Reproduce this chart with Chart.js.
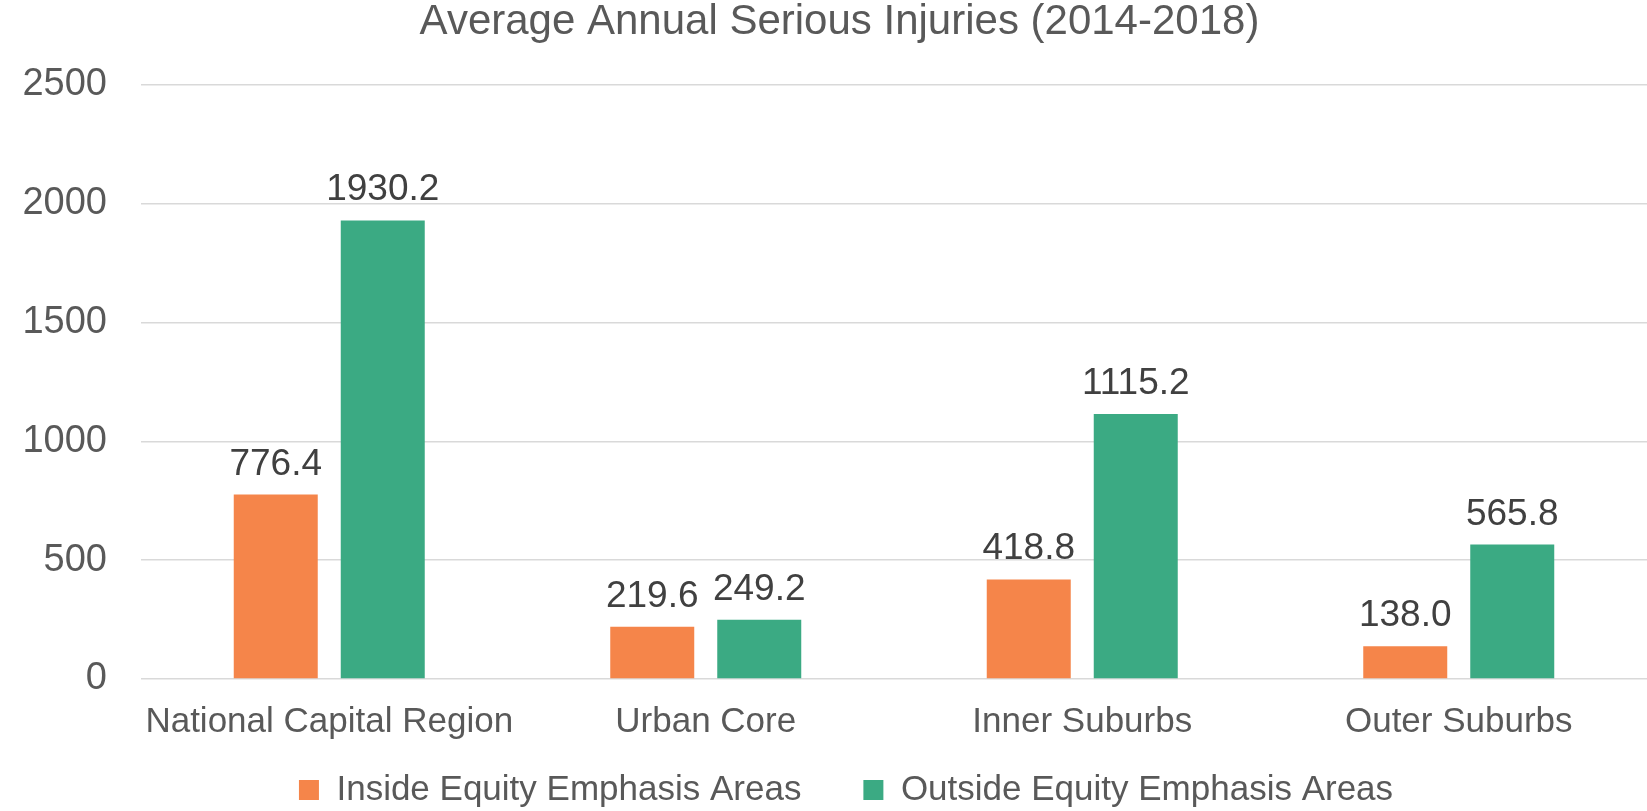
<!DOCTYPE html>
<html><head><meta charset="utf-8">
<script src="https://cdn.jsdelivr.net/npm/chart.js@4.4.0/dist/chart.umd.min.js"></script>
<style>html,body{margin:0;padding:0;background:#fff;} #wrap{width:1647px;height:811px;position:relative;}</style>
</head><body><div id="wrap"><canvas id="c"></canvas></div>
<script>
const categories = ['National Capital Region', 'Urban Core', 'Inner Suburbs', 'Outer Suburbs'];
const seriesNames = ['Inside Equity Emphasis Areas', 'Outside Equity Emphasis Areas'];
const insideValues = [776.4, 219.6, 418.8, 138.0];
const outsideValues = [1930.2, 249.2, 1115.2, 565.8];
const yTicks = [0, 500, 1000, 1500, 2000, 2500];
const titleText = 'Average Annual Serious Injuries (2014-2018)';

const FONT = '"Liberation Sans", Arial, sans-serif';
Chart.defaults.font.family = FONT;

const valueLabels = {
  id: 'valueLabels',
  afterDatasetsDraw(chart) {
    const ctx = chart.ctx;
    ctx.save();
    ctx.font = '37px ' + FONT;
    ctx.fillStyle = '#404040';
    ctx.textAlign = 'center';
    ctx.textBaseline = 'alphabetic';
    chart.data.datasets.forEach((ds, i) => {
      chart.getDatasetMeta(i).data.forEach((bar, j) => {
        ctx.fillText(ds.data[j].toFixed(1), bar.x, bar.y - 20);
      });
    });
    ctx.restore();
  }
};

const shiftBoxes = {
  id: 'shiftBoxes',
  afterLayout(chart) {
    const t = chart.titleBlock;
    if (t) { t.left += 32; }
    const l = chart.legend;
    if (l) {
      l.left += 22.5; l.right += 22.5;
      l.top = 772.5 - 62;
      l.bottom = 811;
      l.height = l.bottom - l.top;
    }
  }
};

new Chart(document.getElementById('c'), {
  type: 'bar',
  data: {
    labels: categories,
    datasets: [
      { label: seriesNames[0], data: insideValues, backgroundColor: '#F5854A', borderWidth: 0,
        categoryPercentage: 0.5684, barPercentage: 0.785 },
      { label: seriesNames[1], data: outsideValues, backgroundColor: '#3BAA83', borderWidth: 0,
        categoryPercentage: 0.5684, barPercentage: 0.785 }
    ]
  },
  options: {
    responsive: true,
    maintainAspectRatio: false,
    animation: false,
    devicePixelRatio: 1,
    layout: { padding: { left: 0, right: 0, top: 0, bottom: 0 } },
    plugins: {
      title: {
        display: true, text: titleText, color: '#595959',
        font: { size: 42, weight: 'normal', lineHeight: 44 / 42 },
        padding: { top: 0, bottom: 41 }
      },
      legend: {
        position: 'bottom',
        maxHeight: 45,
        labels: { boxWidth: 20, boxHeight: 20, padding: 62, color: '#595959', font: { size: 35 } }
      },
      tooltip: { enabled: false }
    },
    scales: {
      x: {
        grid: { display: false, drawTicks: false },
        border: { display: false },
        ticks: { color: '#595959', font: { size: 35, lineHeight: 87 / 35 }, padding: 0, autoSkip: false, maxRotation: 0 }
      },
      y: {
        min: 0, max: 2500,
        afterBuildTicks: s => { s.ticks = yTicks.map(v => ({ value: v })); },
        afterFit: s => { s.width = 141; },
        grid: { color: '#D9D9D9', lineWidth: 1.5, drawTicks: false },
        border: { display: false },
        ticks: { color: '#595959', font: { size: 38 }, padding: 34, callback: v => String(v) }
      }
    }
  },
  plugins: [valueLabels, shiftBoxes]
});
</script>
</body></html>
